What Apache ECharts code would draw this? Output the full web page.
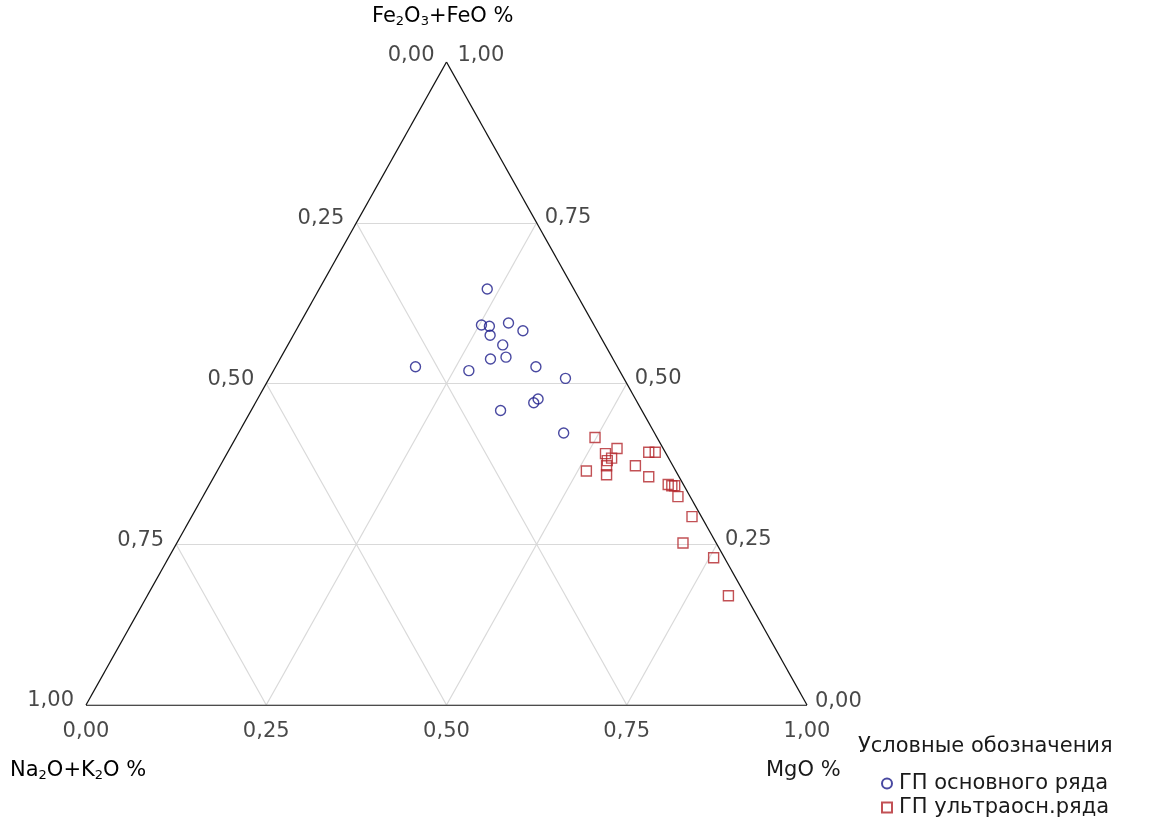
<!DOCTYPE html>
<html>
<head>
<meta charset="utf-8">
<script src="https://cdn.jsdelivr.net/npm/echarts@6/dist/echarts.min.js"></script>
<style>
  html, body { margin: 0; padding: 0; background: #fff; }
  #chart { width: 1155px; height: 830px; }
</style>
</head>
<body>
<div id="chart"></div>
<script>
// ternary ticks (fractions)
const ticks = [0, 0.25, 0.5, 0.75, 1];
const gridTicks = [0.25, 0.5, 0.75];

// ГП основного ряда: Fe2O3+FeO and MgO fractions
const feBasic = [0.647, 0.591, 0.589, 0.575, 0.594, 0.582, 0.560, 0.538, 0.541,
  0.526, 0.520, 0.526, 0.508, 0.470, 0.476, 0.458, 0.423];
const mgoBasic = [0.233, 0.253, 0.265, 0.273, 0.289, 0.315, 0.298, 0.292, 0.312,
  0.194, 0.271, 0.361, 0.411, 0.386, 0.389, 0.346, 0.451];

// ГП ультраосн.ряда
const feUltra = [0.416, 0.391, 0.399, 0.384, 0.380, 0.372, 0.358, 0.364, 0.372, 0.393,
  0.393, 0.355, 0.343, 0.341, 0.341, 0.324, 0.293, 0.252, 0.229, 0.170];
const mgoUltra = [0.498, 0.525, 0.537, 0.537, 0.533, 0.536, 0.543, 0.512, 0.576, 0.584,
  0.593, 0.603, 0.636, 0.642, 0.646, 0.659, 0.694, 0.702, 0.756, 0.806];

const seriesNames = ['ГП основного ряда', 'ГП ультраосн.ряда'];

// ternary -> cartesian (base = 1, height = 1)
function tern(fe, mgo) {
  return [mgo + fe / 2, fe];
}
function fmt(v) {
  return v.toFixed(2).replace('.', ',');
}

const FONT = 'DejaVu Sans';
const FS = 21;
const TXT = '#1a1a1a';

// triangle edges + inner grid
const edges = [
  { coords: [tern(0, 0), tern(0, 1)] },
  { coords: [tern(0, 1), tern(1, 0)] },
  { coords: [tern(1, 0), tern(0, 0)] }
];
const gridLines = [];
gridTicks.forEach(t => {
  gridLines.push({ coords: [tern(t, 0), tern(t, 1 - t)] });       // const Fe
  gridLines.push({ coords: [tern(0, t), tern(1 - t, t)] });       // const MgO
  gridLines.push({ coords: [tern(0, 1 - t), tern(1 - t, 0)] });   // const Na2O+K2O
});

// tick labels
const rightLabels = ticks.map(t => ({
  value: tern(t, 1 - t),
  label: { formatter: fmt(t), offset: t === 1 ? [3, -6] : (t === 0 ? [0, -3] : [0, -5]) }
}));
const leftLabels = ticks.map(t => ({
  value: tern(1 - t, 0),
  label: { formatter: fmt(t), offset: t === 0 ? [0, -6] : [0, -4] }
}));
const bottomLabels = ticks.map(t => ({
  value: tern(0, t),
  label: { formatter: fmt(t) }
}));

function labelSeries(data, position, distance) {
  return {
    type: 'scatter',
    data: data,
    symbolSize: 0,
    silent: true,
    z: 5,
    label: {
      show: true,
      position: position,
      distance: distance,
      fontFamily: FONT,
      fontSize: FS,
      color: TXT
    }
  };
}

const chart = echarts.init(document.getElementById('chart'), null, { renderer: 'canvas' });

const subRich = {
  n: { fontFamily: FONT, fontSize: FS, color: TXT },
  s: { fontFamily: FONT, fontSize: 13, color: TXT, padding: [10, 0, 0, 0] }
};

chart.setOption({
  animation: false,
  backgroundColor: '#fff',
  grid: { left: 86, right: 348, top: 62, bottom: 125 },
  xAxis: { type: 'value', min: 0, max: 1, show: false },
  yAxis: { type: 'value', min: 0, max: 1, show: false },
  legend: {
    orient: 'vertical',
    left: 876,
    top: 768,
    itemWidth: 10,
    itemHeight: 10,
    itemGap: 3,
    data: seriesNames,
    textStyle: { fontFamily: FONT, fontSize: FS, color: TXT, padding: [0, 0, 0, 2] },
    selectedMode: false
  },
  graphic: [
    {
      type: 'text', left: 372, top: 6,
      style: { text: '{n|Fe}{s|2}{n|O}{s|3}{n|+FeO %}', rich: subRich }
    },
    {
      type: 'text', left: 10, top: 760,
      style: { text: '{n|Na}{s|2}{n|O+K}{s|2}{n|O %}', rich: subRich }
    },
    {
      type: 'text', left: 766, top: 760,
      style: { text: 'MgO %', fontFamily: FONT, fontSize: FS, fill: TXT }
    },
    {
      type: 'text', left: 858, top: 736,
      style: { text: 'Условные обозначения', fontFamily: FONT, fontSize: FS, fill: TXT }
    }
  ],
  series: [
    {
      type: 'lines',
      coordinateSystem: 'cartesian2d',
      data: gridLines,
      silent: true,
      z: 1,
      lineStyle: { color: '#d9d9d9', width: 1.2, opacity: 1 }
    },
    {
      type: 'lines',
      coordinateSystem: 'cartesian2d',
      data: edges,
      silent: true,
      z: 2,
      lineStyle: { color: '#111', width: 1.3, opacity: 1 }
    },
    labelSeries(rightLabels, 'right', 8),
    labelSeries(leftLabels, 'left', 12),
    labelSeries(bottomLabels, 'bottom', 16),
    {
      name: seriesNames[0],
      type: 'scatter',
      symbol: 'circle',
      symbolSize: 10,
      z: 10,
      itemStyle: { color: 'rgba(255,255,255,0)', borderColor: '#1c1c8a', borderWidth: 1.4 },
      data: feBasic.map((f, i) => tern(f, mgoBasic[i]))
    },
    {
      name: seriesNames[1],
      type: 'scatter',
      symbol: 'rect',
      symbolSize: 10,
      z: 10,
      itemStyle: { color: 'rgba(255,255,255,0)', borderColor: '#b3262a', borderWidth: 1.4 },
      data: feUltra.map((f, i) => tern(f, mgoUltra[i]))
    }
  ]
});
</script>
</body>
</html>
